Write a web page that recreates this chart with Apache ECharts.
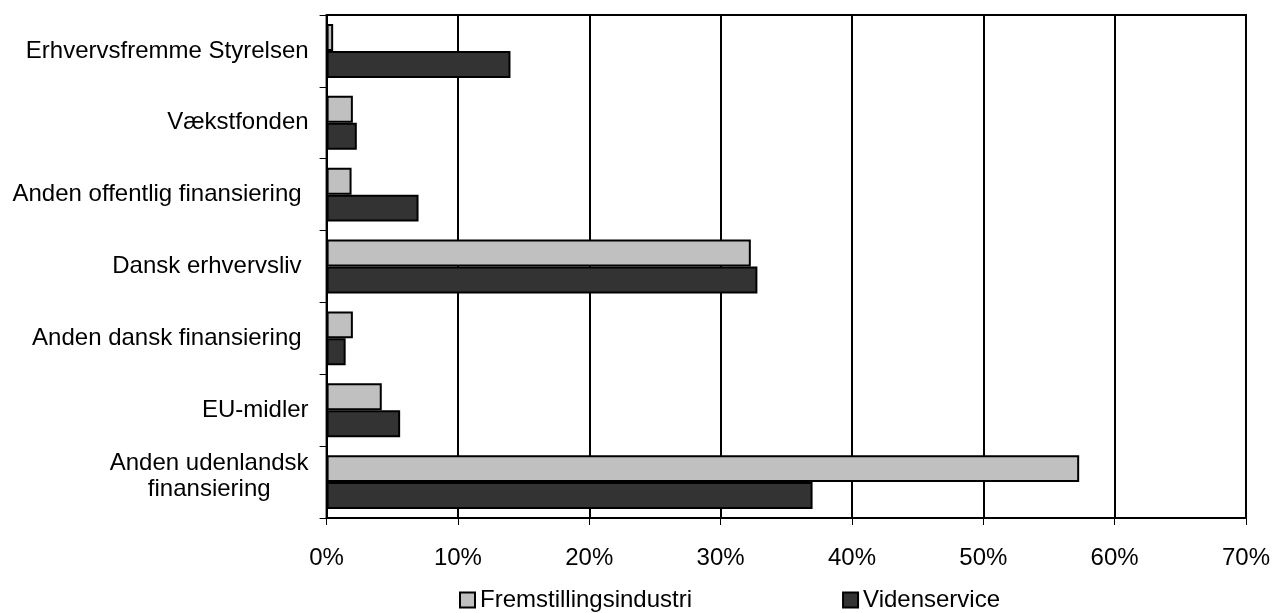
<!DOCTYPE html>
<html>
<head>
<meta charset="utf-8">
<script src="https://cdn.jsdelivr.net/npm/echarts@6/dist/echarts.min.js"></script>
<style>
html,body{margin:0;padding:0;background:#fff;}
#c{width:1273px;height:613px;}
</style>
</head>
<body>
<div id="c"></div>
<script>
const categories = [
  "Erhvervsfremme Styrelsen",
  "Vækstfonden",
  "Anden offentlig finansiering",
  "Dansk erhvervsliv",
  "Anden dansk finansiering",
  "EU-midler",
  "Anden udenlandsk finansiering"
];
const seriesNames = ["Fremstillingsindustri", "Videnservice"];
const fremstilling = [0.5, 2.0, 1.9, 32.3, 2.0, 4.2, 57.3];
const videnservice = [14.0, 2.3, 7.0, 32.8, 1.45, 5.6, 37.0];
const xTicks = [0, 10, 20, 30, 40, 50, 60, 70];

const FONT = "'Liberation Sans', Arial, sans-serif";
const FS = 24;
const padded = ["Anden offentlig finansiering", "Dansk erhvervsliv", "Anden dansk finansiering"];

const chart = echarts.init(document.getElementById('c'), null, {renderer: 'canvas'});
chart.setOption({
  animation: false,
  backgroundColor: '#fff',
  textStyle: {fontFamily: FONT},
  grid: {
    left: 326.6, top: 15, right: 25, bottom: 95,
    show: true, borderColor: '#000', borderWidth: 2, backgroundColor: 'transparent'
  },
  legend: {
    bottom: -4, left: 454,
    itemWidth: 15, itemHeight: 15, itemGap: 150,
    icon: 'rect',
    textStyle: {fontSize: FS, color: '#000', fontFamily: FONT},
    data: seriesNames
  },
  xAxis: {
    type: 'value',
    min: xTicks[0], max: xTicks[xTicks.length - 1], interval: 10,
    axisLine: {show: true, lineStyle: {color: '#000', width: 2}},
    axisTick: {show: true, length: 7, lineStyle: {color: '#000', width: 1}},
    splitLine: {show: true, lineStyle: {color: '#000', width: 2}},
    axisLabel: {
      formatter: v => v + '%', fontSize: FS, color: '#000', fontFamily: FONT, margin: 28
    }
  },
  yAxis: {
    type: 'category',
    inverse: true,
    data: categories,
    axisLine: {show: true, lineStyle: {color: '#000', width: 2}},
    axisTick: {show: true, length: 7, lineStyle: {color: '#000', width: 1}},
    axisLabel: {
      margin: 18, fontSize: FS, color: '#000', fontFamily: FONT,
      formatter: function (v) {
        if (v === "Anden udenlandsk finansiering") {
          return '{a|Anden udenlandsk}\n{b|finansiering}';
        }
        if (padded.indexOf(v) >= 0) return '{p|' + v + '}';
        return v;
      },
      rich: {
        a: {fontSize: FS, color: '#000', fontFamily: FONT, lineHeight: 27},
        b: {fontSize: FS, color: '#000', fontFamily: FONT, lineHeight: 37, verticalAlign: 'top', padding: [0, 38, 0, 0]},
        p: {fontSize: FS, color: '#000', fontFamily: FONT, padding: [0, 7, 0, 0]}
      }
    }
  },
  series: [
    {
      name: seriesNames[0], type: 'bar', data: fremstilling,
      barGap: '0%', barCategoryGap: '25%',
      itemStyle: {color: '#c0c0c0', borderColor: '#000', borderWidth: 2}
    },
    {
      name: seriesNames[1], type: 'bar', data: videnservice,
      barGap: '0%', barCategoryGap: '25%',
      itemStyle: {color: '#333333', borderColor: '#000', borderWidth: 2}
    }
  ]
});
</script>
</body>
</html>
